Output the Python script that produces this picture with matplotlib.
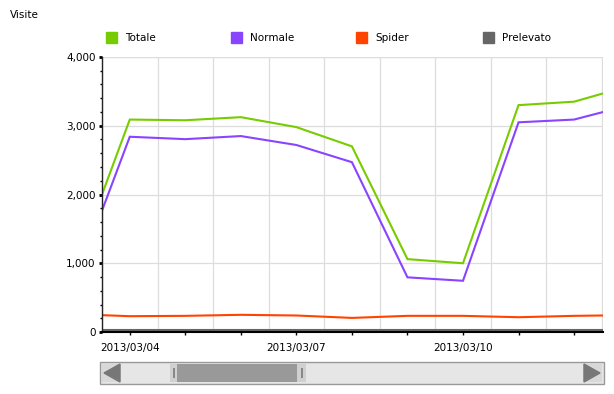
import datetime as dt
import matplotlib
matplotlib.use("Agg")
import matplotlib.pyplot as plt
import matplotlib.dates as mdates
from matplotlib.patches import Rectangle, Polygon
from matplotlib.ticker import MultipleLocator, FuncFormatter

# data
days = [dt.datetime(2013, 3, d) for d in range(3, 14)]
totale = [910, 3090, 3080, 3125, 2980, 2700, 1060, 1000, 3300, 3350, 3580]
normale = [690, 2840, 2805, 2850, 2720, 2470, 795, 745, 3050, 3090, 3300]
spider = [260, 230, 235, 250, 240, 205, 235, 235, 215, 235, 245]
prelevato = [30, 30, 30, 30, 30, 30, 30, 30, 30, 30, 30]
labels = ["Totale", "Normale", "Spider", "Prelevato"]
colors = ["#77cc00", "#8844ff", "#ff4400", "#666666"]

fig = plt.figure(figsize=(6.14, 3.94), dpi=100)
ax = fig.add_axes([102 / 614, 1 - 332 / 394, 501 / 614, 275 / 394])

for vals, c in zip([prelevato, spider, normale, totale], colors[::-1]):
    ax.plot(days, vals, color=c, lw=1.5, solid_joinstyle="miter")

ax.set_xlim(dt.datetime(2013, 3, 3, 12), dt.datetime(2013, 3, 12, 12, 30))
ax.set_ylim(0, 4000)

# x ticks: every day, label every 3 days, grid at noon
ax.xaxis.set_major_locator(mdates.DayLocator())
ax.xaxis.set_minor_locator(mdates.HourLocator(byhour=[12]))
ax.xaxis.set_major_formatter(FuncFormatter(
    lambda v, p: mdates.num2date(v).strftime("%Y/%m/%d")
    if mdates.num2date(v).day in (4, 7, 10) else ""))
ax.tick_params(axis="x", which="major", length=2, width=1, labelsize=7.5, pad=6)
ax.tick_params(axis="x", which="minor", length=0)
for t in ax.xaxis.get_major_ticks():
    if mdates.num2date(t.get_loc()).day in (4, 7, 10):
        t.tick1line.set_markersize(3.5)
        t.tick1line.set_markeredgewidth(2)

ax.yaxis.set_major_locator(MultipleLocator(1000))
ax.yaxis.set_minor_locator(MultipleLocator(200))
ax.yaxis.set_major_formatter(FuncFormatter(lambda v, p: f"{int(v):,}"))
ax.tick_params(axis="y", which="major", length=2.5, width=2, labelsize=7.5, pad=2)
ax.tick_params(axis="y", which="minor", length=1.5, width=1)

ax.grid(which="minor", axis="x", color="#dddddd", lw=0.9)
ax.grid(which="major", axis="y", color="#dddddd", lw=0.9)
ax.axhline(4000, color="#dddddd", lw=0.9)
ax.set_axisbelow(True)

for s in ["top", "right"]:
    ax.spines[s].set_visible(False)
ax.spines["left"].set_color("#222222")
ax.spines["left"].set_linewidth(1)
ax.spines["bottom"].set_color("black")
ax.spines["bottom"].set_linewidth(1.5)

fig.text(10 / 614, 1 - 15 / 394, "Visite", fontsize=7.5, va="center")

# legend
leg_x = [106, 231, 356, 483]
for x, lab, c in zip(leg_x, labels, colors):
    fig.patches.append(Rectangle((x / 614, 1 - 43 / 394), 11 / 614, 11 / 394,
                                 transform=fig.transFigure, color=c))
    fig.text((x + 19) / 614, 1 - 38 / 394, lab, fontsize=7.5, va="center")

# scrollbar (decoration)
def box(x0, y0, w, h, **kw):
    fig.patches.append(Rectangle((x0 / 614, 1 - (y0 + h) / 394), w / 614, h / 394,
                                 transform=fig.transFigure, **kw))

box(100, 362, 504, 22, facecolor="#e6e6e6", edgecolor="#999999", lw=1)
box(102, 364, 19, 18, facecolor="#d8d8d8", edgecolor="none")
box(583, 364, 19, 18, facecolor="#d8d8d8", edgecolor="none")
box(170, 364, 136, 18, facecolor="#d0d0d0", edgecolor="none")
box(177, 364, 120, 18, facecolor="#999999", edgecolor="none")
box(173, 368, 2, 10, facecolor="#888888", edgecolor="none")
box(301, 368, 2, 10, facecolor="#888888", edgecolor="none")
for pts in ([(104, 373), (120, 364), (120, 382)], [(600, 373), (584, 364), (584, 382)]):
    fig.patches.append(Polygon([(x / 614, 1 - y / 394) for x, y in pts],
                               transform=fig.transFigure, color="#777777"))

fig.savefig("out.png", dpi=100)
